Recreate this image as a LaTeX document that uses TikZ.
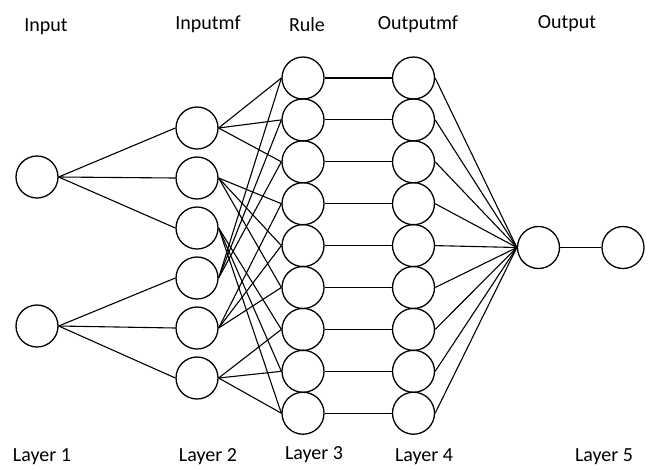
\documentclass[tikz,border=0pt]{standalone}
\usepackage{fontspec}
\setmainfont{Carlito}
\begin{document}
\begin{tikzpicture}[x=1pt,y=-1pt,
  neuron/.style={circle,draw,line width=1.3pt,minimum size=42pt,inner sep=0pt},
  lbl/.style={font=\fontsize{20}{24}\selectfont,inner sep=0pt},
  conn/.style={line width=1.1pt}]
\useasboundingbox (0,0) rectangle (652,469);
% layer 1
\node[neuron] (x1) at (37,177) {};
\node[neuron] (x2) at (37,326) {};
% layer 2
\foreach \i/\y in {1/128,2/178,3/228,4/278,5/328,6/378}
  \node[neuron] (m\i) at (197,\y) {};
% layer 3 and 4
\foreach \i in {1,...,9}{
  \node[neuron] (r\i) at (303,{78+41.9*(\i-1)}) {};
  \node[neuron] (o\i) at (413.5,{78+41.9*(\i-1)}) {};
}
% layer 5
\node[neuron] (f) at (538.5,247.5) {};
\node[neuron] (y) at (623,247.5) {};
% connectors
\foreach \j in {1,2,3} \draw[conn] (x1.east) -- (m\j.west);
\foreach \j in {4,5,6} \draw[conn] (x2.east) -- (m\j.west);
\foreach \j in {1,2,3} {
  \draw[conn] (m1.east) -- (r\j.west);
  \draw[conn] (m4.east) -- (r\j.west);
}
\foreach \j in {4,5,6} {
  \draw[conn] (m2.east) -- (r\j.west);
  \draw[conn] (m5.east) -- (r\j.west);
}
\foreach \j in {7,8,9} {
  \draw[conn] (m3.east) -- (r\j.west);
  \draw[conn] (m6.east) -- (r\j.west);
}
\foreach \j in {1,...,9} {
  \draw[conn] (r\j.east) -- (o\j.west);
  \draw[conn] (o\j.east) -- (f.west);
}
\draw[conn] (f.east) -- (y.west);
% labels
\node[lbl] (t1) at (46,27) {Input};
\node[lbl] (t2) at (208,24) {Inputmf};
\node[lbl] (t3) at (307,25) {Rule};
\node[lbl] (t4) at (418,24) {Outputmf};
\node[lbl] (t5) at (567,24) {Output};
\node[lbl] (b1) at (42,457) {Layer 1};
\node[lbl] (b2) at (208,457) {Layer 2};
\node[lbl] (b3) at (314,455) {Layer 3};
\node[lbl] (b4) at (424,457) {Layer 4};
\node[lbl] (b5) at (604,457) {Layer 5};
\end{tikzpicture}
\end{document}
